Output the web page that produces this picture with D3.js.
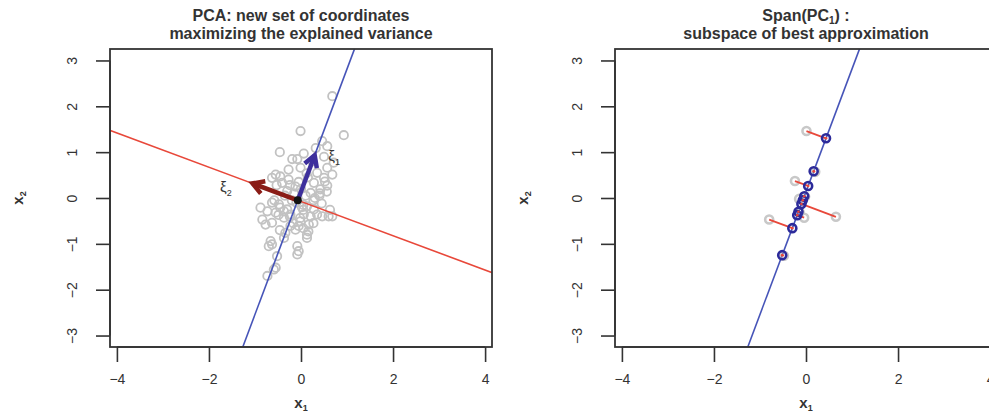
<!DOCTYPE html>
<html><head><meta charset="utf-8">
<script src="https://cdn.jsdelivr.net/npm/d3@7"></script>
<style>
body{margin:0;background:#fff;}
text{font-family:"Liberation Sans",Arial,Helvetica,sans-serif;fill:#333;}
</style></head>
<body><svg id="c" width="989" height="419"></svg>
<script>
// ---- data ----
const xTicks = [-4, -2, 0, 2, 4];
const yTicks = [-3, -2, -1, 0, 1, 2, 3];
const titleLeft = ["PCA: new set of coordinates", "maximizing the explained variance"];
const titleRight = ["subspace of best approximation"];
const scatterX = [0.68,-0.01,0.93,-0.46,0.06,-0.19,-0.08,0.32,0.46,0.57,0.50,0.71,-0.27,-0.01,0.57,0.68,0.50,-0.55,-0.45,-0.63,-0.27,-0.41,0.28,0.42,0.21,0.57,-0.88,-0.63,-0.48,-0.73,-0.55,-0.37,-0.84,-0.77,-0.63,-0.45,-0.30,-0.23,-0.37,0.13,0.28,0.35,0.21,0.06,0.46,0.60,0.68,-0.01,0.17,-0.05,-0.23,-0.12,0.13,0.13,-0.34,-0.37,-0.66,-0.63,-0.70,-0.08,-0.05,-0.08,-0.52,-0.59,-0.55,-0.73,-0.15,0.00,-0.10,0.10,-0.20,0.15,-0.05,0.35,0.25,-0.35,0.05,0.30,-0.30,-0.58,0.40,-0.12,0.02,-0.53,-0.24,0.12,0.52,0.41,0.56,0.27,0.45,0.63,0.05,-0.02,-0.17,-0.49,-0.46,0.05,0.16,0.27,-0.24];
const scatterY = [2.22,1.46,1.37,1.00,0.97,0.85,0.85,1.09,1.24,1.13,0.90,0.77,0.62,0.66,0.66,0.51,0.44,0.51,0.47,0.44,0.40,0.33,0.33,0.19,0.11,0.27,-0.21,-0.10,-0.14,-0.29,-0.32,-0.29,-0.47,-0.58,-0.54,-0.21,-0.25,-0.36,-0.43,-0.18,-0.25,-0.36,-0.40,-0.36,-0.40,-0.40,-0.40,-0.51,-0.58,-0.61,-0.61,-0.69,-0.80,-0.87,-0.76,-0.87,-0.94,-1.01,-1.05,-1.05,-1.16,-1.23,-1.27,-1.56,-1.52,-1.70,0.10,0.20,-0.10,0.05,-0.05,0.45,0.35,0.55,0.80,0.05,-0.15,0.00,0.15,-0.05,0.05,0.25,-0.20,0.28,0.28,0.54,0.36,0.10,0.14,-0.05,-0.12,-0.26,-0.26,-0.44,-0.55,-0.37,-0.70,-0.66,-0.73,-0.55,-0.41];
const center = [-0.07, -0.05];
const pc1 = [0.35, 0.937];
const pc2 = [-0.937, 0.35];
const arrowLen = 1.05;
const subsetX = [0.01,0.20,-0.24,-0.02,-0.15,0.65,-0.14,-0.04,-0.80,-0.48];
const subsetY = [1.46,0.57,0.37,0.03,-0.02,-0.41,-0.31,-0.43,-0.47,-1.26];

// ---- drawing ----
const svg = d3.select("#c");
const xDom = [-4.15, 4.15], yDom = [-3.25, 3.25];
const TITLE_FS = "16px", TICK_FS = "14px";

function panel(off, titleLines) {
  const x = d3.scaleLinear().domain(xDom).range([110 + off, 492 + off]);
  const y = d3.scaleLinear().domain(yDom).range([347, 49]);
  const g = svg.append("g");
  const clipId = "clip" + off;
  g.append("clipPath").attr("id", clipId).append("rect")
    .attr("x", x(xDom[0])).attr("y", y(yDom[1]))
    .attr("width", x(xDom[1]) - x(xDom[0])).attr("height", y(yDom[0]) - y(yDom[1]));
  const plot = g.append("g").attr("clip-path", `url(#${clipId})`);

  const fmt = d => d < 0 ? "\u2212" + Math.abs(d) : d;
  const xa = g.append("g").attr("transform", `translate(0,${y(yDom[0])})`)
    .call(d3.axisBottom(x).tickValues(xTicks).tickSize(15).tickPadding(12).tickFormat(fmt));
  const ya = g.append("g").attr("transform", `translate(${x(xDom[0])},0)`)
    .call(d3.axisLeft(y).tickValues(yTicks).tickSize(14).tickPadding(0).tickFormat(fmt));
  [xa, ya].forEach(a => {
    a.select(".domain").attr("stroke", "#333").attr("stroke-width", 1.6);
    a.selectAll(".tick line").attr("stroke", "#333").attr("stroke-width", 1.6);
    a.selectAll("text").style("font-size", TICK_FS).attr("fill", "#333");
  });
  xa.select(".domain").attr("d", `M${x(xTicks[0])},0H${x(xTicks[xTicks.length-1])}`);
  ya.select(".domain").attr("d", `M0,${y(yTicks[0])}V${y(yTicks[yTicks.length-1])}`);
  ya.selectAll(".tick text").attr("x", null).attr("dy", null)
    .attr("text-anchor", "middle")
    .attr("transform", "translate(-38,0) rotate(-90)")
    .attr("y", 0).attr("dy", "0.35em");

  g.append("rect").attr("x", x(xDom[0])).attr("y", y(yDom[1]))
    .attr("width", x(xDom[1]) - x(xDom[0])).attr("height", y(yDom[0]) - y(yDom[1]))
    .attr("fill", "none").attr("stroke", "#333").attr("stroke-width", 1.8);

  const xl = g.append("text").attr("x", x(0)).attr("y", 408).attr("text-anchor", "middle")
    .style("font-size", "15px").style("font-weight", "bold");
  xl.append("tspan").text("x");
  xl.append("tspan").attr("dy", 3).style("font-size", "9px").text("1");
  const yl = g.append("text").attr("transform", `translate(${23 + off},${y(0)}) rotate(-90)`)
    .attr("text-anchor", "middle").style("font-size", "15px").style("font-weight", "bold");
  yl.append("tspan").text("x");
  yl.append("tspan").attr("dy", 3).style("font-size", "9px").text("2");

  titleLines.forEach((l, i) => {
    if (l === null) return;
    g.append("text").attr("x", x(0)).attr("y", i === 0 ? 21 : 38.5).attr("text-anchor", "middle")
      .style("font-size", TITLE_FS).style("font-weight", "bold").text(l);
  });
  return {x, y, plot, g};
}

function lineThrough(x, y, dir) {
  const s = dir[1] / dir[0];
  const x0 = xDom[0] - 1, x1 = xDom[1] + 1;
  return [[x(x0), y(center[1] + (x0 - center[0]) * s)], [x(x1), y(center[1] + (x1 - center[0]) * s)]];
}

// ---- left panel ----
const L = panel(0, titleLeft);
const pts = scatterX.map((v, i) => [v, scatterY[i]]);
L.plot.selectAll("circle.pt").data(pts).join("circle").attr("class", "pt")
  .attr("cx", d => L.x(d[0])).attr("cy", d => L.y(d[1])).attr("r", 4.2)
  .attr("fill", "none").attr("stroke", "#c2c2c2").attr("stroke-width", 1.8);
const lg = d3.line();
L.plot.append("path").attr("d", lg(lineThrough(L.x, L.y, pc2)))
  .attr("stroke", "#e8483a").attr("stroke-width", 1.6).attr("fill", "none");
L.plot.append("path").attr("d", lg(lineThrough(L.x, L.y, pc1)))
  .attr("stroke", "#4654b8").attr("stroke-width", 1.6).attr("fill", "none");

function arrow(g, x, y, dir, color) {
  const x0 = x(center[0]), y0 = y(center[1]);
  const x1 = x(center[0] + dir[0] * arrowLen), y1 = y(center[1] + dir[1] * arrowLen);
  const ang = Math.atan2(y1 - y0, x1 - x0);
  const hl = 13, ha = Math.PI / 6;
  g.append("path").attr("d", `M${x0},${y0}L${x1},${y1}`)
    .attr("stroke", color).attr("stroke-width", 4.5).attr("fill", "none");
  g.append("path")
    .attr("d", `M${x1 - hl * Math.cos(ang - ha)},${y1 - hl * Math.sin(ang - ha)}L${x1},${y1}L${x1 - hl * Math.cos(ang + ha)},${y1 - hl * Math.sin(ang + ha)}`)
    .attr("stroke", color).attr("stroke-width", 4.5).attr("fill", "none")
    .attr("stroke-linejoin", "miter").attr("stroke-linecap", "butt");
}
arrow(L.plot, L.x, L.y, pc2, "#8a1c16");
arrow(L.plot, L.x, L.y, pc1, "#3d2f9c");
L.plot.append("circle").attr("cx", L.x(center[0])).attr("cy", L.y(center[1])).attr("r", 4)
  .attr("fill", "#111");

function xiLabel(px, py, sub) {
  const t = L.g.append("text").attr("x", L.x(px)).attr("y", L.y(py)).attr("text-anchor", "middle")
    .style("font-size", "15px");
  t.append("tspan").text("\u03BE");
  t.append("tspan").attr("dy", 4).style("font-size", "9px").text(sub);
}
xiLabel(0.72, 0.80, "1");
xiLabel(-1.63, 0.14, "2");

// ---- right panel ----
const R = panel(505, [null, titleRight[0]]);
{
  const tt = R.g.append("text").attr("x", R.x(0)).attr("y", 21).attr("text-anchor", "middle")
    .style("font-size", TITLE_FS).style("font-weight", "bold");
  tt.append("tspan").text("Span(PC");
  tt.append("tspan").attr("dy", 3).style("font-size", "10px").text("1");
  tt.append("tspan").attr("dy", -3).text(") :");
}
R.plot.append("path").attr("d", lg(lineThrough(R.x, R.y, pc1)))
  .attr("stroke", "#4654b8").attr("stroke-width", 1.6).attr("fill", "none");
const sub = subsetX.map((v, i) => {
  const dx = v - center[0], dy = subsetY[i] - center[1];
  const t = dx * pc1[0] + dy * pc1[1];
  return {o: [v, subsetY[i]], p: [center[0] + t * pc1[0], center[1] + t * pc1[1]]};
});
R.plot.selectAll("circle.orig").data(sub).join("circle").attr("class", "orig")
  .attr("cx", d => R.x(d.o[0])).attr("cy", d => R.y(d.o[1])).attr("r", 4)
  .attr("fill", "none").attr("stroke", "#c8c8c8").attr("stroke-width", 2.6);
R.plot.selectAll("line.seg").data(sub).join("line").attr("class", "seg")
  .attr("x1", d => R.x(d.o[0])).attr("y1", d => R.y(d.o[1]))
  .attr("x2", d => R.x(d.p[0])).attr("y2", d => R.y(d.p[1]))
  .attr("stroke", "#e8483a").attr("stroke-width", 1.8);
R.plot.selectAll("circle.proj").data(sub).join("circle").attr("class", "proj")
  .attr("cx", d => R.x(d.p[0])).attr("cy", d => R.y(d.p[1])).attr("r", 4)
  .attr("fill", "none").attr("stroke", "#2c2a9a").attr("stroke-width", 2.6);
R.plot.selectAll("circle.dot").data(sub).join("circle").attr("class", "dot")
  .attr("cx", d => R.x(d.p[0])).attr("cy", d => R.y(d.p[1])).attr("r", 1.3)
  .attr("fill", "#e8483a");
</script></body></html>
